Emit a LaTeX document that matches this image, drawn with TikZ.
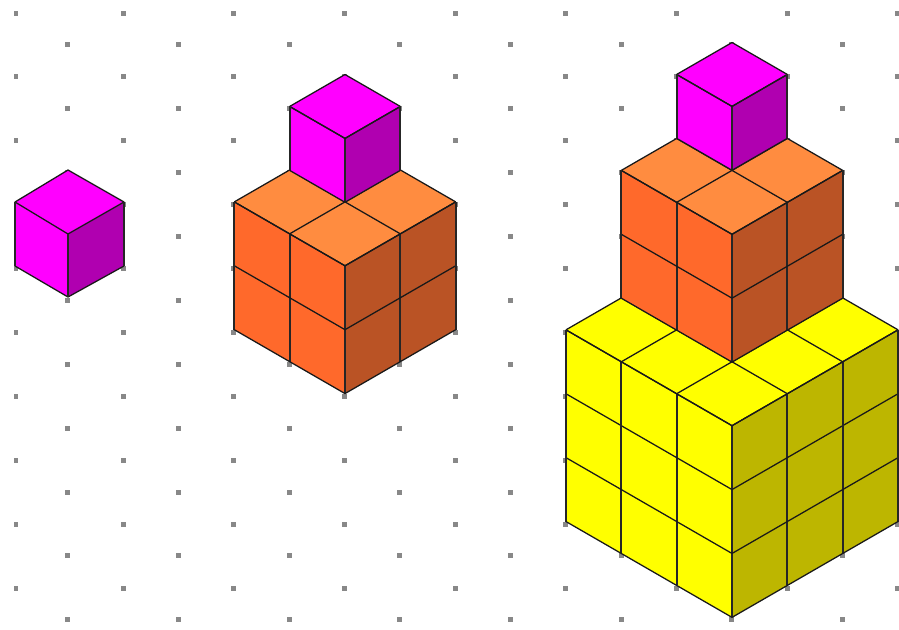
\documentclass[tikz,border=0pt]{standalone}
\definecolor{magL}{HTML}{FF00FF}
\definecolor{magR}{HTML}{B000B0}
\definecolor{oraT}{HTML}{FF8C40}
\definecolor{oraL}{HTML}{FF692B}
\definecolor{oraR}{HTML}{BA5325}
\definecolor{yelL}{HTML}{FFFF00}
\definecolor{yelR}{HTML}{BDB600}
\definecolor{griddot}{HTML}{888888}
\tikzset{
  griddotmark/.style={fill=griddot,draw=none},
  edge/.style={draw=black!90,line width=0.95pt,line join=round},
  vedge/.style={draw=black!85,line width=1.35pt}
}
% #1 apex x, #2 apex y (pixels), #3 size, #4 top, #5 left, #6 right colours
\newcommand{\isoblock}[6]{%
  \begin{scope}[shift={(#1*0.75pt,-#2*0.75pt)},x=41.51pt,y=-23.96pt]
    \fill[#4] (0,0) -- (#3,#3) -- (0,2*#3) -- (-#3,#3) -- cycle;
    \fill[#5] (-#3,#3) -- (0,2*#3) -- (0,4*#3) -- (-#3,3*#3) -- cycle;
    \fill[#6] (#3,#3) -- (0,2*#3) -- (0,4*#3) -- (#3,3*#3) -- cycle;
    \foreach \k in {0,...,#3}{
      \draw[edge] (\k,\k) -- ({\k-#3},{\k+#3});
      \draw[edge] (-\k,\k) -- ({#3-\k},{\k+#3});
      \draw[vedge] (-\k,{2*#3-\k}) -- (-\k,{4*#3-\k});
      \draw[vedge] (\k,{2*#3-\k}) -- (\k,{4*#3-\k});
      \draw[edge] (-#3,{#3+2*\k}) -- (0,{2*#3+2*\k}) -- (#3,{#3+2*\k});
    }
  \end{scope}}
\begin{document}
\begin{tikzpicture}[x=0.75pt,y=-0.75pt]
\useasboundingbox (0,0) rectangle (899,629);
% dot grid
\foreach \r in {0,...,9}{
  \fill[griddotmark] ({15.5-2},{13+63.9*\r-2.5}) rectangle ++(4,5);
  \foreach \c in {2,4,...,16}{
    \fill[griddotmark] ({12.3+55.35*\c-2.5},{13+63.9*\r-2.5}) rectangle ++(5,5);
  }
  \foreach \c in {1,3,...,15}{
    \fill[griddotmark] ({12.3+55.35*\c-2.5},{44.7+63.9*\r-2.5}) rectangle ++(5,5);
  }
}
% first cube
\fill[magL] (68,170) -- (124,202) -- (68,234) -- (15,202) -- cycle;
\fill[magL] (15,202) -- (68,234) -- (68,297) -- (15,266) -- cycle;
\fill[magR] (124,202) -- (68,234) -- (68,297) -- (124,266) -- cycle;
\draw[edge] (68,170) -- (124,202) -- (68,234) -- (15,202) -- cycle;
\draw[edge] (15,266) -- (68,297) -- (124,266);
\draw[vedge] (15,202) -- (15,266);
\draw[vedge] (68,234) -- (68,297);
\draw[vedge] (124,202) -- (124,266);
% second stack
\isoblock{345}{138}{2}{oraT}{oraL}{oraR}
\isoblock{345}{74.5}{1}{magL}{magL}{magR}
% third stack
\isoblock{732}{234}{3}{yelL}{yelL}{yelR}
\isoblock{732}{106.5}{2}{oraT}{oraL}{oraR}
\isoblock{732}{42.5}{1}{magL}{magL}{magR}
\end{tikzpicture}
\end{document}
